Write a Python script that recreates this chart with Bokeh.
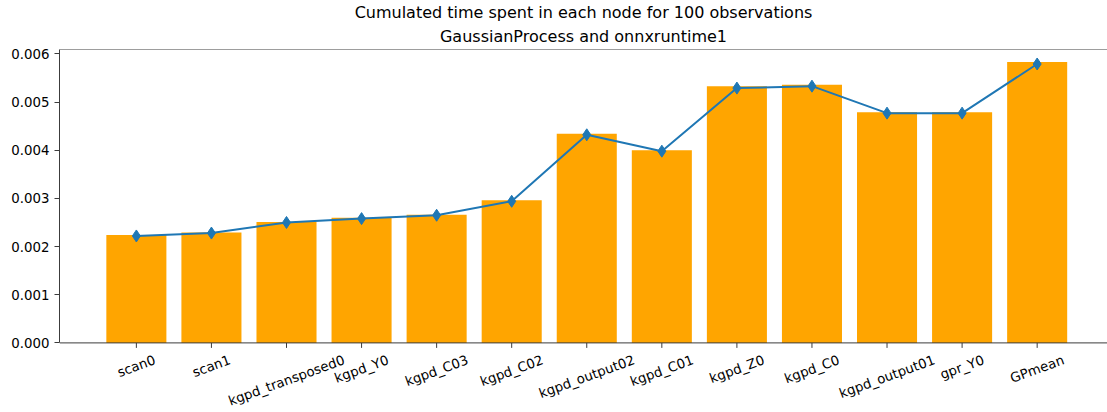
import math
from bokeh.plotting import figure
from bokeh.models import (Range1d, FixedTicker, PrintfTickFormatter, Span, Title)
from bokeh.core.properties import value
from bokeh.embed import file_html
from bokeh.resources import INLINE

# ---- data ----
nodes = ["scan0", "scan1", "kgpd_transposed0", "kgpd_Y0", "kgpd_C03", "kgpd_C02",
         "kgpd_output02", "kgpd_C01", "kgpd_Z0", "kgpd_C0", "kgpd_output01", "gpr_Y0", "GPmean"]
bar_values = [0.00224, 0.00229, 0.00251, 0.00260, 0.00266, 0.00296,
              0.00434, 0.00400, 0.00533, 0.00536, 0.00479, 0.00479, 0.00583]
line_values = [0.00222, 0.00228, 0.00250, 0.00258, 0.00265, 0.00294,
               0.00432, 0.00398, 0.00529, 0.00533, 0.00477, 0.00477, 0.00579]
y_ticks = [0.0, 0.001, 0.002, 0.003, 0.004, 0.005, 0.006]
title_lines = ["Cumulated time spent in each node for 100 observations",
               "GaussianProcess and onnxruntime1"]

FONT = "DejaVu Sans"
TICK_PX = 13.33
Y_END = 0.006091
AX_H = 293.4            # pixel height of the axes area (0 .. Y_END)
FRAME_H = 364           # frame also holds the rotated tick labels below zero
PX = Y_END / AX_H       # data units per pixel
Y_START = -(FRAME_H - AX_H) * PX
X_START = -1.024

idx = list(range(len(nodes)))

p = figure(frame_width=1048, frame_height=FRAME_H,
           min_border_left=59, min_border_right=0, min_border_top=48, min_border_bottom=0,
           x_range=Range1d(X_START, 12.937), y_range=Range1d(Y_START, Y_END),
           output_backend="svg", toolbar_location=None, tools="")
p.background_fill_color = "white"
p.border_fill_color = "white"
p.outline_line_color = None
p.grid.visible = False
p.xaxis.visible = False

p.vbar(x=idx, top=bar_values, width=0.8, fill_color="#FFA500", line_color=None)
p.line(idx, line_values, line_color="#1f77b4", line_width=2)
p.scatter(idx, line_values, marker="diamond", size=12, color="#1f77b4")

spine = "#3c3c3c"
ax = p.yaxis[0]
ax.bounds = (0, Y_END)
ax.axis_line_color = spine
ax.axis_line_width = 1
ax.major_tick_line_color = spine
ax.major_tick_line_width = 1
ax.major_tick_out = 5
ax.major_tick_in = 0
ax.minor_tick_line_color = None
ax.major_label_text_font = FONT
ax.major_label_text_font_size = f"{TICK_PX}px"
ax.major_label_text_color = "#000000"
ax.major_label_standoff = 5
ax.ticker = FixedTicker(ticks=y_ticks)
ax.formatter = PrintfTickFormatter(format="%.3f")

# top and bottom spines
p.add_layout(Span(location=Y_END, dimension="width", line_color=spine, line_width=1))
p.add_layout(Span(location=0, dimension="width", line_color=spine, line_width=1))
# x ticks
p.segment(x0=idx, y0=[0] * len(idx), x1=idx, y1=[-5 * PX] * len(idx),
          line_color=spine, line_width=1)

# rotated x tick labels, centred like matplotlib (rotation=20, ha=center, va=top)
W = {'a': .613, 'b': .635, 'c': .550, 'd': .635, 'e': .615, 'g': .635, 'k': .579, 'm': .974,
     'n': .634, 'o': .612, 'p': .635, 'r': .411, 's': .521, 't': .392, 'u': .634, '_': .5,
     'C': .698, 'G': .775, 'P': .603, 'Y': .611, 'Z': .685, 'i': .278, 'l': .278, 'h': .634}
ang = math.radians(20)
ys = []
for name in nodes:
    w = sum(W.get(ch, .636) for ch in name) * TICK_PX
    h = 1.164 * TICK_PX
    H = w * math.sin(ang) + h * math.cos(ang)
    ys.append(-(9.3 + H / 2) * PX)
p.text(x=idx, y=ys, text=nodes, angle=20, angle_units="deg",
       text_align="center", text_baseline="middle",
       text_font=value(FONT), text_font_size=f"{TICK_PX}px", text_color="#000000")

# two-line title
p.add_layout(Title(text=title_lines[1], align="center", text_font=FONT, text_font_size="16px",
                   text_font_style="normal", text_color="#000000", standoff=7), "above")
p.add_layout(Title(text=title_lines[0], align="center", text_font=FONT, text_font_size="16px",
                   text_font_style="normal", text_color="#000000", standoff=0), "above")

open("out.html", "w").write(file_html(p, INLINE))
